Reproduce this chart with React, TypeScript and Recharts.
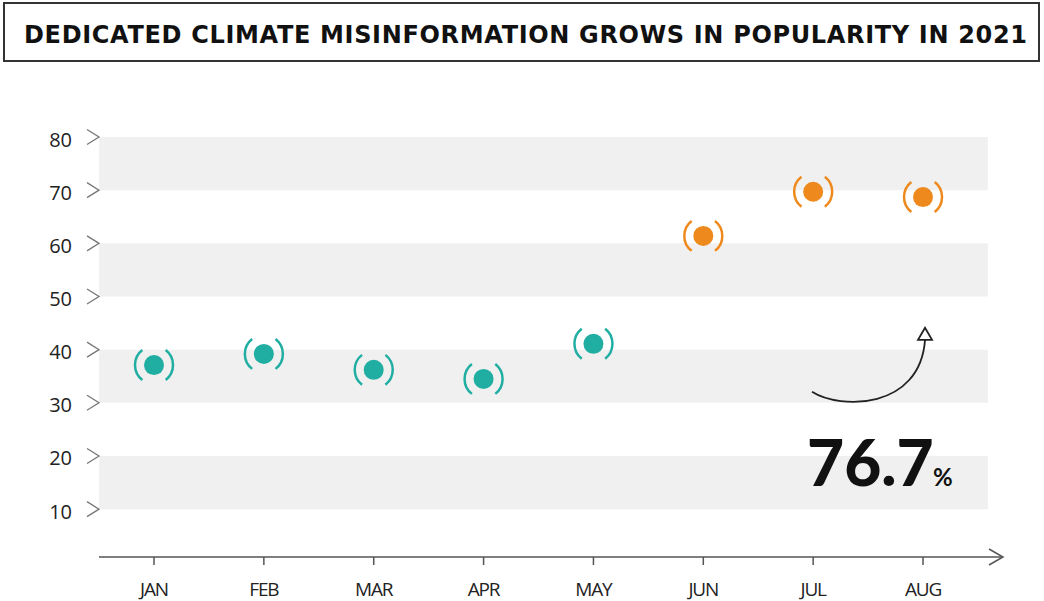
import { ScatterChart, Scatter, XAxis, YAxis, ReferenceArea, ReferenceDot, Cell } from "recharts";

const months = ["JAN", "FEB", "MAR", "APR", "MAY", "JUN", "JUL", "AUG"];
const shares = [37.1, 39.2, 36.2, 34.5, 41.1, 61.4, 69.7, 68.7];
const yTicks = [10, 20, 30, 40, 50, 60, 70, 80];
const bands: [number, number][] = [[10, 20], [30, 40], [50, 60], [70, 80]];
const growthLabel = "76.7";

const TEAL = "#20aea3";
const ORANGE = "#ee8a1d";

const data = months.map((m, i) => ({ x: i, y: shares[i], month: m }));

function YTick({ x, y, payload }: any) {
  return (
    <g>
      <text x={x - 27} y={y + 2} textAnchor="end" dominantBaseline="central" fontFamily="Open Sans" fontSize={20} fill="#222">
        {payload.value}
      </text>
      <path d={`M${x - 12},${y - 7.5} L${x},${y} L${x - 12},${y + 7.5}`} fill="none" stroke="#777" strokeWidth={1.3} />
    </g>
  );
}

function XTick({ x, y, payload }: any) {
  return (
    <g>
      <line x1={x} y1={y} x2={x} y2={y + 8} stroke="#555" strokeWidth={1.5} />
      <text x={x} y={y + 39} textAnchor="middle" fontFamily="Open Sans" fontSize={19} letterSpacing={-1.2} fill="#222">
        {months[payload.value]}
      </text>
    </g>
  );
}

function arcPath(cx: number, cy: number, r: number, side: number) {
  const a = (52 * Math.PI) / 180;
  const dx = side * r * Math.cos(a);
  const dy = r * Math.sin(a);
  return `M${cx + dx},${cy - dy} A${r},${r} 0 0 ${side > 0 ? 1 : 0} ${cx + dx},${cy + dy}`;
}

function Marker({ cx, cy, fill }: any) {
  if (cx == null || cy == null) return null;
  return (
    <g>
      <circle cx={cx} cy={cy} r={10} fill={fill} />
      <path d={arcPath(cx, cy, 19, -1)} fill="none" stroke={fill} strokeWidth={2.5} />
      <path d={arcPath(cx, cy, 19, 1)} fill="none" stroke={fill} strokeWidth={2.5} />
    </g>
  );
}

function AxisArrow({ cx, cy }: any) {
  return <path d={`M${cx - 14},${cy - 8} L${cx},${cy} L${cx - 14},${cy + 8}`} fill="none" stroke="#555" strokeWidth={1.5} />;
}

function Growth({ cx, cy }: any) {
  return (
    <g>
      <path d={`M${cx - 111},${cy - 11} C${cx - 83},${cy + 7} ${cx - 3},${cy + 7} ${cx + 2},${cy - 63}`} fill="none" stroke="#222" strokeWidth={1.8} />
      <path d={`M${cx + 2},${cy - 75} L${cx - 5},${cy - 63} L${cx + 9},${cy - 63} Z`} fill="#fff" stroke="#222" strokeWidth={1.8} />
      <text x={cx - 116} y={cy + 83} fontFamily="Lato" fontWeight={900} fontSize={64} fill="#111">
        {growthLabel}
      </text>
      <text x={cx + 10} y={cy + 83} fontFamily="Lato" fontWeight={700} fontSize={24} fill="#111">
        %
      </text>
    </g>
  );
}

export default function App() {
  return (
    <div style={{ position: "absolute", left: 0, top: 0, width: 1044, height: 601, background: "#fff" }}>
      <div style={{ position: "absolute", left: 3, top: 2, width: 1033, height: 56, border: "2px solid #333" }}>
        <svg width={1033} height={56} style={{ display: "block" }}>
          <text x={19} y={39} textLength={1003} lengthAdjust="spacing" fontFamily="DejaVu Sans" fontWeight={700} fontSize={24} fill="#111">
            DEDICATED CLIMATE MISINFORMATION GROWS IN POPULARITY IN 2021
          </text>
        </svg>
      </div>
      <div style={{ position: "absolute", left: 0, top: 0 }}>
        <ScatterChart width={1044} height={601} margin={{ top: 137, right: 41, bottom: 0, left: 0 }}>
          {bands.map(([a, b]) => (
            <ReferenceArea key={a} x1={-0.5} x2={7.59} y1={a} y2={b} fill="#f0f0f0" fillOpacity={1} stroke="none" />
          ))}
          <XAxis
            type="number"
            dataKey="x"
            domain={[-0.5006, 7.728]}
            ticks={months.map((_, i) => i)}
            interval={0}
            height={44}
            tickSize={0}
            tickMargin={0}
            tickLine={false}
            axisLine={{ stroke: "#555", strokeWidth: 1.5 }}
            tick={<XTick />}
          />
          <YAxis
            type="number"
            dataKey="y"
            domain={[1, 80]}
            ticks={yTicks}
            interval={0}
            width={99}
            tickSize={0}
            tickMargin={0}
            tickLine={false}
            axisLine={false}
            tick={<YTick />}
          />
          <ReferenceDot x={7.728} y={1} r={0} ifOverflow="visible" shape={<AxisArrow />} />
          <Scatter data={data} isAnimationActive={false} shape={<Marker />}>
            {data.map((d, i) => (
              <Cell key={d.month} fill={i < 5 ? TEAL : ORANGE} />
            ))}
          </Scatter>
          <ReferenceDot x={7} y={30} r={0} ifOverflow="visible" shape={<Growth />} />
        </ScatterChart>
      </div>
    </div>
  );
}
